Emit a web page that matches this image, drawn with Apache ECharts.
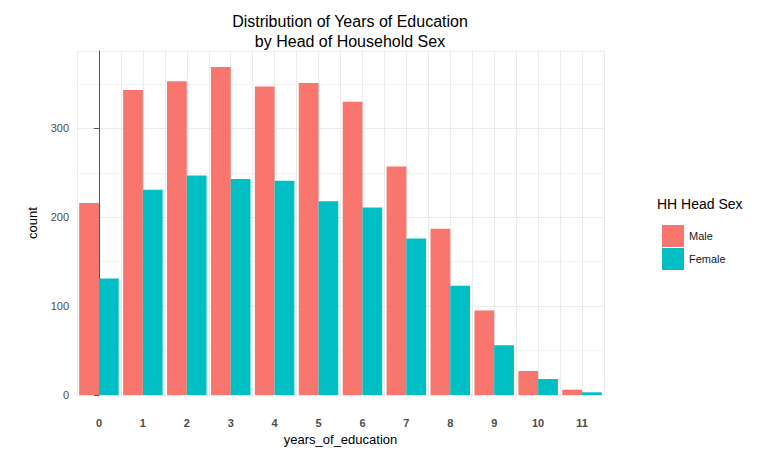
<!DOCTYPE html>
<html>
<head>
<meta charset="utf-8">
<script src="https://cdn.jsdelivr.net/npm/echarts@6/dist/echarts.min.js"></script>
<style>html,body{margin:0;background:#fff}#c{width:759px;height:455px}</style>
</head>
<body>
<div id="c"></div>
<script>
var years = ['0', '1', '2', '3', '4', '5', '6', '7', '8', '9', '10', '11'];
var male = [216, 343, 353, 369, 347, 351, 330, 257, 187, 95, 27, 6];
var female = [131, 231, 247, 243, 241, 218, 211, 176, 123, 56, 18, 3];

var chart = echarts.init(document.getElementById('c'), null, { renderer: 'svg' });
var grid = '#ebebeb';
chart.setOption({
  animation: false,
  textStyle: { fontFamily: 'Liberation Sans, Arial, sans-serif' },
  title: {
    text: 'Distribution of Years of Education\nby Head of Household Sex',
    left: 345, top: 6, textAlign: 'center',
    textStyle: { fontSize: 16, fontWeight: 'normal', color: '#000', lineHeight: 20 }
  },
  legend: {
    orient: 'vertical', left: 657, top: 220, itemWidth: 22, itemHeight: 22, itemGap: 1,
    icon: 'rect', textStyle: { fontSize: 11, color: '#1a1a1a' },
    data: ['Male', 'Female']
  },
  graphic: [{ type: 'text', left: 657, top: 197, style: { text: 'HH Head Sex', fontSize: 14, fill: '#000', fontFamily: 'Liberation Sans, Arial, sans-serif' } }],
  grid: { left: 77, right: 155, top: 51, bottom: 60 },
  xAxis: [{
    type: 'category', data: years,
    name: 'years_of_education', nameLocation: 'middle', nameGap: 22,
    nameTextStyle: { fontSize: 13, color: '#000' },
    axisLine: { show: false }, axisTick: { show: false },
    axisLabel: { color: '#4d4d4d', fontSize: 11, fontWeight: 'bold', margin: 22 },
    splitLine: { show: false }
  }, {
    type: 'value', min: -0.5, max: 11.5, interval: 0.5, show: true,
    axisLabel: { show: false }, axisLine: { show: false }, axisTick: { show: false },
    splitLine: { show: true, lineStyle: { color: grid, width: 1 } }
  }],
  yAxis: {
    type: 'value', min: 0, max: 387, interval: 100,
    name: 'count', nameLocation: 'middle', nameGap: 38, nameRotate: 90,
    nameTextStyle: { fontSize: 13, color: '#000' },
    axisLabel: { color: '#4d4d4d', fontSize: 11, showMaxLabel: false },
    splitLine: { lineStyle: { color: grid } },
    minorTick: { show: false, splitNumber: 2 },
    minorSplitLine: { show: true, lineStyle: { color: '#f3f3f3' } }
  },
  series: [
    { name: 'Male', type: 'bar', data: male, barGap: '0%', barCategoryGap: '10%', itemStyle: { color: '#F8766D' } },
    { name: 'Female', type: 'bar', data: female, barGap: '0%', barCategoryGap: '10%', itemStyle: { color: '#00BFC4' } }
  ]
});
</script>
</body>
</html>
